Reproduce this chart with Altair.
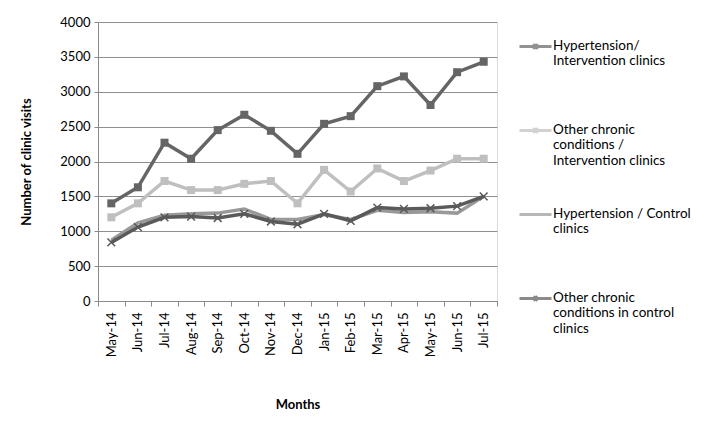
import altair as alt
import pandas as pd

months = ["May-14", "Jun-14", "Jul-14", "Aug-14", "Sep-14", "Oct-14", "Nov-14",
          "Dec-14", "Jan-15", "Feb-15", "Mar-15", "Apr-15", "May-15", "Jun-15", "Jul-15"]

series_names = [
    "Hypertension/|Intervention clinics|",
    "Other chronic|conditions /|Intervention clinics",
    "Hypertension / Control|clinics|",
    "Other chronic|conditions in control|clinics",
]

hyp_int = [1400, 1630, 2270, 2040, 2450, 2670, 2440, 2110, 2540, 2650, 3080, 3220, 2810, 3280, 3430]
oth_int = [1200, 1400, 1720, 1590, 1590, 1680, 1720, 1400, 1880, 1570, 1900, 1720, 1870, 2040, 2040]
hyp_ctl = [870, 1120, 1230, 1250, 1260, 1320, 1170, 1170, 1240, 1170, 1300, 1270, 1280, 1260, 1500]
oth_ctl = [840, 1060, 1200, 1210, 1190, 1250, 1140, 1100, 1250, 1150, 1340, 1320, 1330, 1360, 1500]

colors = ["#656565", "#BFBFBF", "#999999", "#5A5A5A"]

rows = []
for i, (name, vals) in enumerate(zip(series_names, [hyp_int, oth_int, hyp_ctl, oth_ctl])):
    for m, v in zip(months, vals):
        rows.append({"Month": m, "Series": name, "Visits": v, "order": i})
df = pd.DataFrame(rows)

FONT = "Lato"

x_enc = alt.X(
    "Month:O", sort=months, bandPosition=0.5,
    scale=alt.Scale(type="band", paddingInner=0, paddingOuter=0),
    axis=alt.Axis(title="Months", labelAngle=270, tickBand="extent", grid=False,
                  domainColor="#8a8a8a", tickColor="#8a8a8a", tickSize=5,
                  labelFontSize=13, labelColor="#000000", labelPadding=6,
                  titleFontSize=13, titleFontWeight="bold", titleColor="#000000",
                  titlePadding=42, labelFont=FONT, titleFont=FONT),
)
y_enc = alt.Y(
    "Visits:Q", scale=alt.Scale(domain=[0, 4000], nice=False),
    axis=alt.Axis(title="Number of clinic visits", values=list(range(0, 4001, 500)),
                  format="d",
                  grid=True, gridColor="#8f8f8f", gridWidth=1,
                  domainColor="#8a8a8a", tickColor="#8a8a8a", tickSize=4,
                  labelFontSize=13, labelColor="#000000", labelPadding=4,
                  titleFontSize=13, titleFontWeight="bold", titleColor="#000000",
                  titlePadding=26, labelFont=FONT, titleFont=FONT),
)
color_scale = alt.Scale(domain=series_names, range=colors)

lines = alt.Chart(df).mark_line(strokeWidth=3.5).encode(
    x=x_enc, y=y_enc,
    color=alt.Color("Series:N", scale=color_scale, legend=None),
    order=alt.Order("order:Q"),
)

squares = alt.Chart(df).transform_filter(
    alt.FieldOneOfPredicate(field="Series", oneOf=series_names[:2])
).mark_point(shape="square", filled=True, size=64, opacity=1).encode(
    x=x_enc, y=y_enc,
    color=alt.Color("Series:N", scale=color_scale, legend=None),
)

crosses = alt.Chart(df).transform_filter(
    alt.FieldEqualPredicate(field="Series", equal=series_names[3])
).mark_point(shape="M-1,-1L1,1M-1,1L1,-1", filled=False, size=60, strokeWidth=1.5, opacity=1).encode(
    x=x_enc, y=y_enc,
    color=alt.Color("Series:N", scale=color_scale, legend=None),
)

sym_square = "M-1,0.5H1M-0.08,0.42H0.08V0.58H-0.08Z"
sym_line = "M-1,0.5H1"
sym_x = "M-1,0.5H1M-0.13,0.37L0.13,0.63M-0.13,0.63L0.13,0.37"

def make_legend():
    return alt.Legend(
        title=None, orient="none", legendX=420, legendY=-1,
        symbolSize=1024, symbolStrokeWidth=3,
        labelExpr="split(datum.label, '|')", labelFontSize=13.5, labelFont=FONT,
        labelColor="#000000", labelBaseline="top", labelOffset=0, labelLimit=300,
        rowPadding=22,
    )

legend_layer = alt.Chart(df).transform_filter("datum.Visits < 0").mark_point(filled=False).encode(
    x=x_enc, y=y_enc,
    stroke=alt.Stroke("Series:N", scale=color_scale, legend=make_legend()),
    shape=alt.Shape("Series:N", scale=alt.Scale(domain=series_names,
                    range=[sym_square, sym_square, sym_line, sym_x]), legend=make_legend()),
)

chart = alt.layer(lines, squares, crosses, legend_layer).resolve_scale(
    color="independent", stroke="independent", shape="independent"
).properties(
    width=399, height=279,
    padding={"left": 90, "top": 14, "right": 203, "bottom": 127},
    autosize="none",
).configure_view(stroke=None).configure(background="#ffffff")

chart.save("out.html", embed_options={"renderer": "svg", "actions": False})
